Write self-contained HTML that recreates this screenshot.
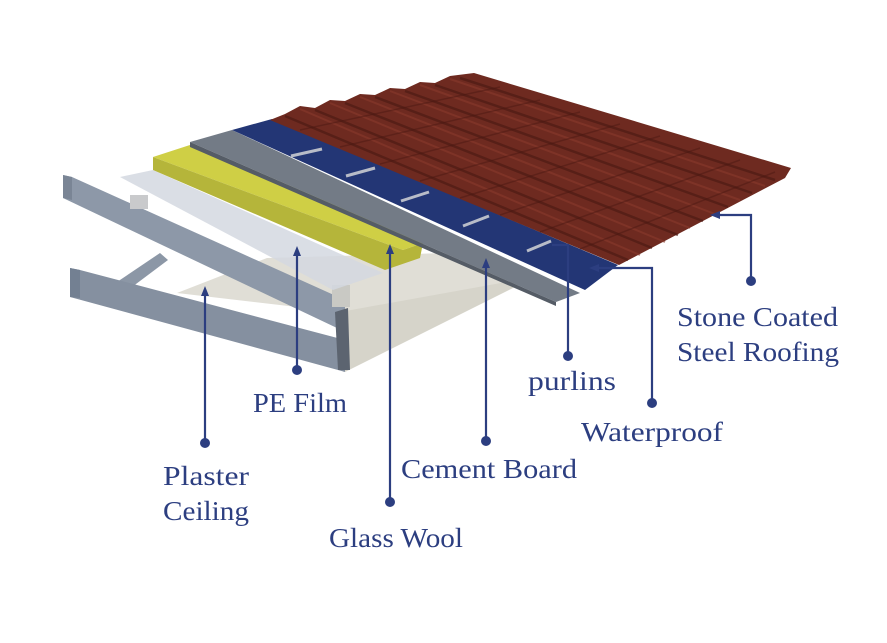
<!DOCTYPE html>
<html><head><meta charset="utf-8"><style>html,body{margin:0;padding:0;background:#fff}svg{display:block}</style></head>
<body>
<svg width="887" height="643" viewBox="0 0 887 643" xmlns="http://www.w3.org/2000/svg">
<rect width="887" height="643" fill="#fff"/>
<!-- ceiling board -->
<polygon points="177,293 267,258 447,253 517,280 343,372 340,312" fill="#e0ded6"/>
<polygon points="340,312 517,280 517,286 345,372" fill="#d6d4ca"/>
<!-- steel truss -->
<polygon points="117,282 160,253 168,260 128,290" fill="#8c97a6"/>
<polygon points="63,175 72,177 345,300 345,330 337,328 63,198" fill="#8d98a8"/>
<polygon points="63,175 72,177 72,200 63,198" fill="#7a8595"/>
<polygon points="70,268 80,270 345,340 345,372 338,370 70,297" fill="#8590a0"/>
<polygon points="70,268 80,270 80,298 70,297" fill="#738092"/>
<polygon points="335,312 348,308 350,370 338,370" fill="#5c6470"/>
<rect x="130" y="195" width="18" height="14" fill="#c9cacc"/>
<rect x="332" y="285" width="18" height="22" fill="#c9c9c4"/>
<!-- PE film -->
<polygon points="120,177 153,170 383,273 333,290" fill="#d3d8e0" opacity="0.85"/>
<!-- glass wool -->
<polygon points="153,157 193,144 423,243 403,250" fill="#cfcf45"/>
<polygon points="153,157 403,250 423,243 420,258 385,270 153,170" fill="#b5b53a"/>
<!-- cement board -->
<polygon points="190,142 232,130 580,293 556,302" fill="#737b86"/>
<polygon points="190,142 556,302 556,306 190,147" fill="#555c66"/>
<!-- waterproof -->
<polygon points="232,130 272,119 618,265 585,290" fill="#233675"/>
<g stroke="#b8bcc8" stroke-width="3">
<line x1="291" y1="156" x2="322" y2="149"/><line x1="346" y1="176" x2="375" y2="168"/>
<line x1="401" y1="201" x2="429" y2="192"/><line x1="463" y1="226" x2="489" y2="216"/>
<line x1="527" y1="251" x2="551" y2="241"/>
</g>
<!-- roofing -->
<polygon points="270,120 285,114 300,106 315,108 330,100 345,101 360,94 375,95 390,88 405,89 420,82 435,83 450,76 474,73 791,168 785,178 619,265" fill="#6e2a20"/>
<g stroke="#4e1b14" stroke-width="2.5" opacity="0.7">
<line x1="285" y1="116" x2="628" y2="260"/><line x1="315" y1="110" x2="652" y2="248"/>
<line x1="345" y1="103" x2="678" y2="235"/><line x1="375" y1="97" x2="703" y2="221"/>
<line x1="405" y1="91" x2="728" y2="207"/><line x1="435" y1="85" x2="752" y2="193"/>
<line x1="460" y1="78" x2="775" y2="180"/>
</g>
<g stroke="#8a3a2c" stroke-width="2" opacity="0.6">
<line x1="300" y1="109" x2="640" y2="255"/><line x1="330" y1="103" x2="665" y2="242"/>
<line x1="360" y1="97" x2="690" y2="228"/><line x1="390" y1="91" x2="715" y2="214"/>
<line x1="420" y1="85" x2="740" y2="200"/><line x1="450" y1="79" x2="765" y2="186"/>
</g>
<g stroke="#4a1812" stroke-width="1.5" opacity="0.45">
<line x1="300" y1="130" x2="500" y2="87"/><line x1="340" y1="147" x2="540" y2="100"/>
<line x1="380" y1="164" x2="580" y2="112"/><line x1="420" y1="181" x2="620" y2="124"/>
<line x1="460" y1="198" x2="660" y2="136"/><line x1="500" y1="215" x2="700" y2="148"/>
<line x1="540" y1="232" x2="740" y2="160"/><line x1="580" y1="249" x2="775" y2="172"/>
</g>
<!-- connectors -->
<g stroke="#2c3e80" stroke-width="2.2" fill="none">
<polyline points="714,215 751,215 751,281"/>
<polyline points="593,268 652,268 652,403"/>
<polyline points="552,245 568,245 568,356"/>
<line x1="486" y1="264" x2="486" y2="441"/>
<line x1="390" y1="250" x2="390" y2="502"/>
<line x1="297" y1="252" x2="297" y2="370"/>
<line x1="205" y1="292" x2="205" y2="443"/>
</g>
<g fill="#2c3e80">
<polygon points="710,215 720,211 720,219"/>
<polygon points="589,268 599,264 599,272"/>
<polygon points="486,258 482,268 490,268"/>
<polygon points="390,244 386,254 394,254"/>
<polygon points="297,246 293,256 301,256"/>
<polygon points="205,286 201,296 209,296"/>
<circle cx="751" cy="281" r="5"/><circle cx="652" cy="403" r="5"/>
<circle cx="568" cy="356" r="5"/><circle cx="486" cy="441" r="5"/>
<circle cx="390" cy="502" r="5"/><circle cx="297" cy="370" r="5"/>
<circle cx="205" cy="443" r="5"/>
</g>
<g font-family="Liberation Serif, serif" font-size="27" fill="#2c3e80">
<text x="677" y="326" textLength="161" lengthAdjust="spacingAndGlyphs">Stone Coated</text>
<text x="677" y="361" textLength="162" lengthAdjust="spacingAndGlyphs">Steel Roofing</text>
<text x="528" y="390" textLength="88" lengthAdjust="spacingAndGlyphs">purlins</text>
<text x="581" y="441" textLength="142" lengthAdjust="spacingAndGlyphs">Waterproof</text>
<text x="401" y="478" textLength="176" lengthAdjust="spacingAndGlyphs">Cement Board</text>
<text x="253" y="412" textLength="94" lengthAdjust="spacingAndGlyphs">PE Film</text>
<text x="163" y="485" textLength="86" lengthAdjust="spacingAndGlyphs">Plaster</text>
<text x="163" y="520" textLength="86" lengthAdjust="spacingAndGlyphs">Ceiling</text>
<text x="329" y="547" textLength="134" lengthAdjust="spacingAndGlyphs">Glass Wool</text>
</g>
</svg>
</body></html>
